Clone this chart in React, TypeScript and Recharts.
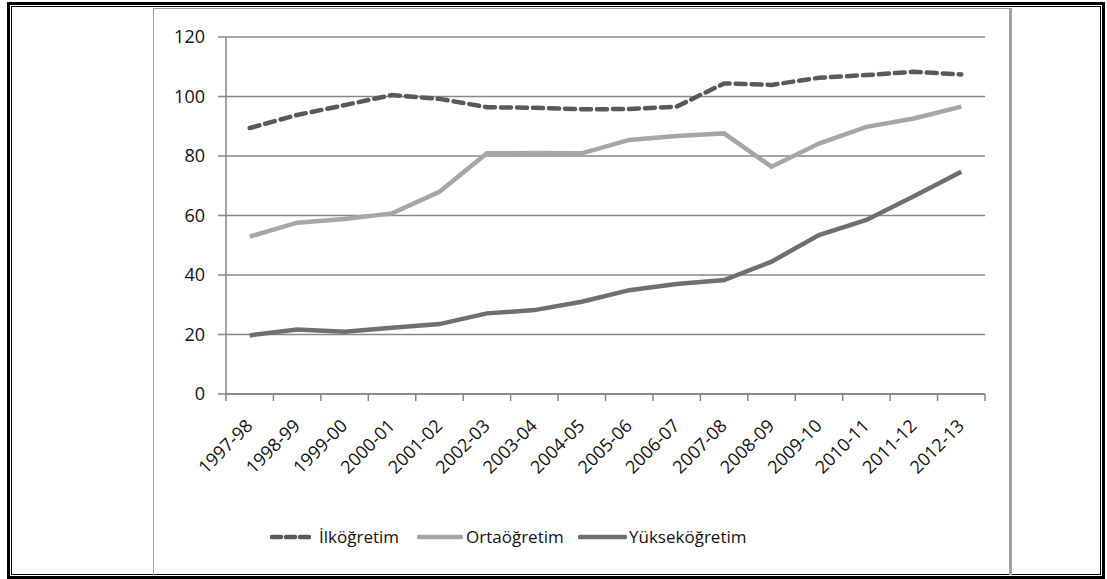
import { LineChart, Line, XAxis, YAxis, CartesianGrid, Legend } from "recharts";

const categories = [
  "1997-98", "1998-99", "1999-00", "2000-01", "2001-02", "2002-03", "2003-04", "2004-05",
  "2005-06", "2006-07", "2007-08", "2008-09", "2009-10", "2010-11", "2011-12", "2012-13",
];
const ilkogretim = [89.4, 93.8, 97.1, 100.5, 99.2, 96.4, 96.2, 95.7, 95.8, 96.6, 104.4, 103.9, 106.3, 107.2, 108.3, 107.4];
const ortaogretim = [52.9, 57.6, 58.8, 60.7, 68.0, 80.9, 81.0, 80.9, 85.4, 86.7, 87.6, 76.4, 84.2, 89.8, 92.6, 96.6];
const yuksekogretim = [19.7, 21.7, 20.9, 22.3, 23.5, 27.1, 28.2, 31.0, 34.9, 37.0, 38.3, 44.5, 53.4, 58.5, 66.5, 74.7];
const yTicks = [0, 20, 40, 60, 80, 100, 120];

const seriesNames = ["İlköğretim", "Ortaöğretim", "Yükseköğretim"];

const data = categories.map((label, i) => ({
  pos: i + 0.5,
  label,
  ilk: ilkogretim[i],
  orta: ortaogretim[i],
  yuksek: yuksekogretim[i],
}));

// boundary ticks (integers) get a tick mark, centres (x.5) get a label
const xTicks: number[] = [];
for (let i = 0; i <= categories.length; i++) {
  xTicks.push(i);
  if (i < categories.length) xTicks.push(i + 0.5);
}

const FONT = "'Open Sans', sans-serif";
const GRID = "#868686";
const TEXT = "#111";

function XTick({ x, y, payload }: any) {
  const v = payload.value;
  if (Number.isInteger(v)) {
    return <line x1={x} x2={x} y1={y} y2={y + 7} stroke={GRID} strokeWidth={1.5} />;
  }
  const label = categories[Math.floor(v)];
  const ax = x + 4;
  const ay = y + 33;
  return (
    <text
      x={ax}
      y={ay}
      textAnchor="end"
      transform={`rotate(-45 ${ax} ${ay})`}
      fontSize={18}
      fontFamily={FONT}
      fill={TEXT}
    >
      {label}
    </text>
  );
}

const legendItems = [
  { name: seriesNames[0], color: "#595959", dash: "9 5", x: 117, w: 41, tx: 166 },
  { name: seriesNames[1], color: "#a6a6a6", dash: "", x: 264, w: 46, tx: 313 },
  { name: seriesNames[2], color: "#6f6f6f", dash: "", x: 425, w: 49, tx: 476 },
];

function LegendContent() {
  return (
    <div style={{ position: "relative", width: 857, height: 24 }}>
      {legendItems.map((it) => (
        <div key={it.name}>
          <svg
            width={it.w}
            height={24}
            style={{ position: "absolute", left: it.x, top: 0 }}
          >
            <line
              x1={2}
              x2={it.w - 2}
              y1={12}
              y2={12}
              stroke={it.color}
              strokeWidth={4.5}
              strokeDasharray={it.dash || undefined}
              strokeLinecap="round"
            />
          </svg>
          <span
            style={{
              position: "absolute",
              left: it.tx,
              top: 0,
              lineHeight: "24px",
              fontSize: 17,
              fontFamily: FONT,
              color: TEXT,
              whiteSpace: "nowrap",
            }}
          >
            {it.name}
          </span>
        </div>
      ))}
    </div>
  );
}

export default function App() {
  return (
    <div style={{ position: "absolute", left: 0, top: 0, width: 1107, height: 579, background: "#fff" }}>
      <div
        style={{
          position: "absolute",
          left: 7,
          top: 2,
          width: 1098,
          height: 577,
          border: "3px solid #000",
          boxSizing: "border-box",
        }}
      >
        <div style={{ position: "absolute", inset: 1, border: "1px solid #000" }} />
      </div>
      <div
        style={{
          position: "absolute",
          left: 153,
          top: 8,
          width: 859,
          height: 567,
          borderLeft: "1.5px solid #a0a0a0",
          borderTop: "1.5px solid #a0a0a0",
          borderRight: "3px solid #a0a0a0",
          boxSizing: "border-box",
        }}
      />
      <div style={{ position: "absolute", left: 153, top: 9 }}>
        <LineChart width={857} height={565} data={data} margin={{ top: 28, right: 25, left: 0, bottom: 0 }}>
          <CartesianGrid vertical={false} stroke={GRID} strokeWidth={1.5} />
          <XAxis
            dataKey="pos"
            type="number"
            domain={[0, categories.length]}
            ticks={xTicks}
            interval={0}
            tickSize={0}
            tickMargin={0}
            tickLine={false}
            tick={<XTick />}
            height={180}
            axisLine={{ stroke: GRID, strokeWidth: 1.5 }}
          />
          <YAxis
            type="number"
            domain={[0, 120]}
            ticks={yTicks}
            width={73}
            tickSize={8}
            tickMargin={13}
            tickLine={{ stroke: GRID, strokeWidth: 1.5 }}
            axisLine={{ stroke: GRID, strokeWidth: 1.5 }}
            tick={{ fontSize: 18, fontFamily: FONT, fill: TEXT }}
          />
          <Legend
            verticalAlign="middle"
            align="center"
            layout="horizontal"
            wrapperStyle={{ top: 516, left: 0, width: 857 }}
            content={() => <LegendContent />}
          />
          <Line
            dataKey="orta"
            name={seriesNames[1]}
            stroke="#a6a6a6"
            strokeWidth={4.5}
            dot={false}
            isAnimationActive={false}
          />
          <Line
            dataKey="yuksek"
            name={seriesNames[2]}
            stroke="#6f6f6f"
            strokeWidth={4.5}
            dot={false}
            isAnimationActive={false}
          />
          <Line
            dataKey="ilk"
            name={seriesNames[0]}
            stroke="#595959"
            strokeWidth={4.5}
            strokeDasharray="10 6"
            strokeLinecap="round"
            dot={false}
            isAnimationActive={false}
          />
        </LineChart>
      </div>
    </div>
  );
}
